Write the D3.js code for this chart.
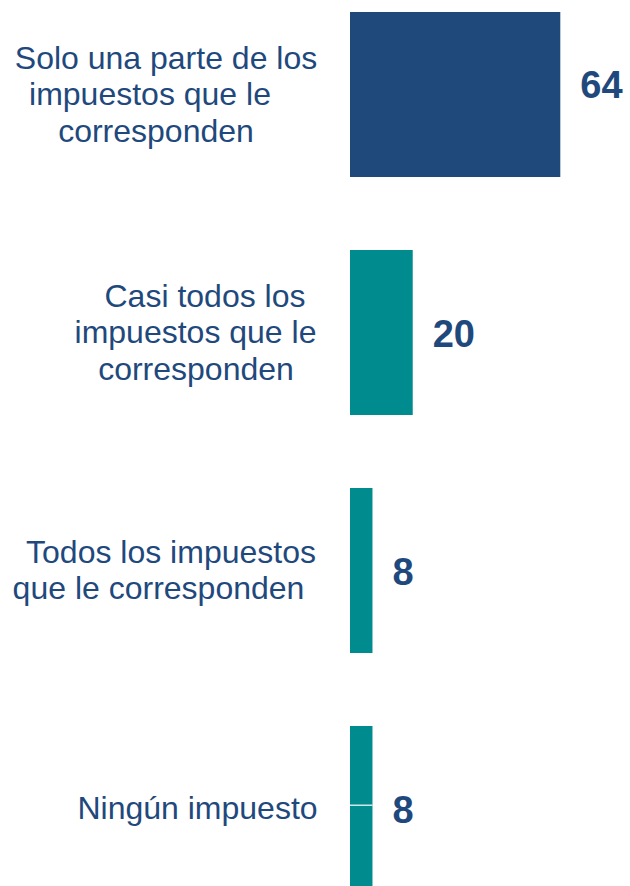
<!DOCTYPE html>
<html>
<head>
<meta charset="utf-8">
<script src="https://cdn.jsdelivr.net/npm/d3@7"></script>
<style>
  html, body { margin: 0; padding: 0; background: #ffffff; }
  svg { display: block; }
</style>
</head>
<body>
<div id="chart"></div>
<script>
// ---- data ----
const categories = [
  "Solo una parte de los impuestos que le corresponden",
  "Casi todos los impuestos que le corresponden",
  "Todos los impuestos que le corresponden",
  "Ningún impuesto"
];
const labelLines = [
  ["Solo una parte de los", "impuestos que le", "corresponden"],
  ["Casi todos los", "impuestos que le", "corresponden"],
  ["Todos los impuestos", "que le corresponden"],
  ["Ningún impuesto"]
];
const values = [64, 20, 8, 8];

// ---- layout ----
const W = 630, H = 886;
const darkBlue = "#1F497A";
const teal = "#008B8F";
const textColor = "#1F497D";
const barLeft = 350;
const fontFam = "'Liberation Sans', Arial, sans-serif";
// horizontal centre of each wrapped label line
const lineCenters = [[166, 150, 156], [205, 195.5, 196], [171, 158.5], [197.5]];

const svg = d3.select("#chart").append("svg")
  .attr("width", W).attr("height", H);

const y = d3.scaleBand()
  .domain(categories)
  .range([12, 891])
  .paddingInner(0.3067)
  .paddingOuter(0);

const x = d3.scaleLinear()
  .domain([1.3, 64])
  .range([barLeft, 560.3]);

const data = categories.map((c, i) => ({ c, v: values[i], lines: labelLines[i], i }));

// bars
svg.selectAll("rect.bar").data(data).enter().append("rect")
  .attr("class", "bar")
  .attr("x", barLeft)
  .attr("y", d => y(d.c))
  .attr("width", d => x(d.v) - barLeft)
  .attr("height", y.bandwidth())
  .attr("fill", d => d.i === 0 ? darkBlue : teal);

// thin white separator seen across the last bar
const last = data[data.length - 1];
svg.append("line")
  .attr("x1", barLeft).attr("x2", x(last.v))
  .attr("y1", y(last.c) + y.bandwidth() * 0.48)
  .attr("y2", y(last.c) + y.bandwidth() * 0.48)
  .attr("stroke", "#ffffff").attr("stroke-width", 1.2);

// value labels
svg.selectAll("text.val").data(data).enter().append("text")
  .attr("class", "val")
  .attr("x", d => x(d.v) + 20)
  .attr("y", d => y(d.c) + y.bandwidth() / 2 + 13.5 + (d.i === 0 ? -10 : 1))
  .attr("fill", textColor)
  .attr("font-family", fontFam)
  .attr("font-weight", "bold")
  .attr("font-size", 38)
  .text(d => d.v);

// category labels
const lineH = 36.5;
data.forEach(d => {
  const cy = y(d.c) + y.bandwidth() / 2;
  const n = d.lines.length;
  d.lines.forEach((ln, k) => {
    svg.append("text")
      .attr("x", lineCenters[d.i][k])
      .attr("y", cy + 10.5 + (k - (n - 1) / 2) * lineH)
      .attr("text-anchor", "middle")
      .attr("fill", textColor)
      .attr("font-family", fontFam)
      .attr("font-size", 32)
      .text(ln);
  });
});
</script>
</body>
</html>
